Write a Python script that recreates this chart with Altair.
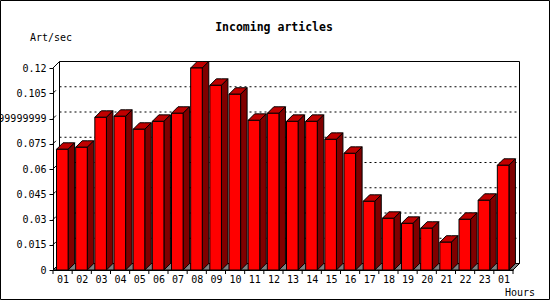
import json
import altair as alt
import pandas as pd

# ---------------- data ----------------
hours = ["01", "02", "03", "04", "05", "06", "07", "08", "09", "10", "11", "12",
         "13", "14", "15", "16", "17", "18", "19", "20", "21", "22", "23", "01"]
rates = [0.0717, 0.0729, 0.0907, 0.0913, 0.0836, 0.0883, 0.0931, 0.1200,
         0.1097, 0.1044, 0.0889, 0.0931, 0.0883, 0.0883, 0.0776, 0.0693,
         0.0408, 0.0307, 0.0277, 0.0248, 0.0165, 0.0301, 0.0414, 0.0622]
y_ticks = [0, 0.015, 0.03, 0.045, 0.06, 0.075, 0.09, 0.105, 0.12]
y_tick_labels = ["0", "0.015", "0.03", "0.045", "0.06", "0.075",
                 "0.0899999999", "0.105", "0.12"]
title_text = "Incoming articles"
y_title = "Art/sec"
x_title = "Hours"

# ---------------- geometry / style ----------------
W, H = 460, 202
PAD_L, PAD_T = 53, 68
N = len(hours)
Y_MAX = y_ticks[-1]
DEPTH = 6.5                       # px of 3D depth
dx = DEPTH * N / W                # depth in x data units
dy = DEPTH * Y_MAX / H            # depth in y data units
FRONT_OFF = 3.5 * N / W
FRONT_W = 11.6 * N / W
FONT = "DejaVu Sans Mono"

xs = alt.Scale(domain=[0, N], nice=False, zero=False)
ys = alt.Scale(domain=[0, Y_MAX], nice=False, zero=False)

x_label_expr = json.dumps(hours) + "[floor(datum.value)]"
y_label_expr = json.dumps(y_tick_labels) + "[round(datum.value / %r)]" % y_ticks[1]

XAX = alt.Axis(
    values=[i + 0.5 for i in range(N)], labelExpr=x_label_expr, ticks=False,
    domain=True, domainColor="black", domainWidth=1, grid=False, title=None,
    labelFont=FONT, labelFontSize=10, labelColor="black", labelPadding=4,
    labelAngle=0, labelOverlap=False, labelFlush=False, labelBound=False)
YAX = alt.Axis(
    values=y_ticks, labelExpr=y_label_expr, ticks=True, tickSize=4,
    tickColor="black", domain=True, domainColor="black", domainWidth=1,
    grid=False, title=None, labelFont=FONT, labelFontSize=10,
    labelColor="black", labelPadding=3, labelOverlap=False,
    labelFlush=False, labelBound=False)


def X(field):
    return alt.X(field, scale=xs, axis=XAX)


def Y(field):
    return alt.Y(field, scale=ys, axis=YAX)


# bar faces
front_rows, top_rows, side_rows = [], [], []
for i, v in enumerate(rates):
    x0 = i + FRONT_OFF
    x1 = x0 + FRONT_W
    front_rows.append({"bar": i, "hour": hours[i], "x0": x0, "x1": x1, "v": v})
    for k, (xx, yy, yy2) in enumerate([(x0, v, v), (x0 + dx, v + dy, v),
                                       (x1, v + dy, v), (x1 + dx, v + dy, v + dy)]):
        top_rows.append({"bar": i, "k": k, "x": xx, "y": yy, "y2": yy2})
    for k, (xx, yy, yy2) in enumerate([(x1, v, 0), (x1 + dx, v + dy, dy)]):
        side_rows.append({"bar": i, "k": k, "x": xx, "y": yy, "y2": yy2})
front_df = pd.DataFrame(front_rows)
top_df = pd.DataFrame(top_rows)
side_df = pd.DataFrame(side_rows)

floor_df = pd.DataFrame({"x": [0, dx, N, N + dx], "y": [0, dy, dy, dy], "y2": [0, 0, 0, dy]})
back_df = pd.DataFrame({"x": [dx], "x2": [N + dx], "y": [dy], "y2": [Y_MAX + dy]})
grid_df = pd.DataFrame({"x": dx, "x2": N + dx, "y": [t + dy for t in y_ticks[1:-1]]})
xtick_df = pd.DataFrame({"t": list(range(N + 1))})
ydiag_df = pd.DataFrame({"x": 0.0, "x2": dx * 0.45, "y": y_ticks,
                         "y2": [t + dy * 0.45 for t in y_ticks]})
corner_df = pd.DataFrame({"x": [0.0], "x2": [dx], "y": [Y_MAX], "y2": [Y_MAX + dy]})
one = pd.DataFrame({"a": [0]})

# ---------------- layers ----------------
border = alt.Chart(one).mark_rect(fillOpacity=0, stroke="black", strokeWidth=1).encode(
    x=alt.value(-PAD_L + 0.5), x2=alt.value(550 - PAD_L - 0.5),
    y=alt.value(-PAD_T + 0.5), y2=alt.value(300 - PAD_T - 0.5))

back = alt.Chart(back_df).mark_rect(fill="white", stroke="black", strokeWidth=1).encode(
    x=X("x:Q"), x2="x2", y=Y("y:Q"), y2="y2")

grid = alt.Chart(grid_df).mark_rule(color="black", strokeWidth=1, strokeDash=[2, 3]).encode(
    x=X("x:Q"), x2="x2", y=Y("y:Q"))

floor = alt.Chart(floor_df).mark_area(fill="#808080", stroke="black", strokeWidth=1).encode(
    x=X("x:Q"), y=Y("y:Q"), y2="y2")

corner = alt.Chart(corner_df).mark_rule(color="black", strokeWidth=1).encode(
    x=X("x:Q"), x2="x2", y=Y("y:Q"), y2="y2")

face_layers = []
for i in range(N):
    face_layers.append(
        alt.Chart(top_df).transform_filter(alt.datum.bar == i)
        .mark_area(fill="#c00000", stroke="black", strokeWidth=1, fillOpacity=1)
        .encode(x=X("x:Q"), y=Y("y:Q"), y2="y2"))
    face_layers.append(
        alt.Chart(side_df).transform_filter(alt.datum.bar == i)
        .mark_area(fill="#800000", stroke="black", strokeWidth=1, fillOpacity=1)
        .encode(x=X("x:Q"), y=Y("y:Q"), y2="y2"))

fronts = alt.Chart(front_df).mark_rect(fill="#ff0000", stroke="black", strokeWidth=1).encode(
    x=X("x0:Q"), x2="x1", y=Y("v:Q"), y2=alt.Y2(datum=0),
    tooltip=["hour:N", "v:Q"])

xticks = alt.Chart(xtick_df).mark_rule(color="black", strokeWidth=1).encode(
    x=X("t:Q"), y=alt.value(H), y2=alt.value(H + 4))

ydiag = alt.Chart(ydiag_df).mark_rule(color="black", strokeWidth=1).encode(
    x=X("x:Q"), x2="x2", y=Y("y:Q"), y2="y2")

title_mark = alt.Chart(one).mark_text(
    text=title_text, font=FONT, fontSize=11.5, fontWeight="bold", color="black",
    align="center", baseline="alphabetic").encode(x=alt.value(274 - PAD_L), y=alt.value(31 - PAD_T))
ytitle_mark = alt.Chart(one).mark_text(
    text=y_title, font=FONT, fontSize=10, color="black",
    align="left", baseline="alphabetic").encode(x=alt.value(30 - PAD_L), y=alt.value(41 - PAD_T))
xtitle_mark = alt.Chart(one).mark_text(
    text=x_title, font=FONT, fontSize=10, color="black",
    align="left", baseline="alphabetic").encode(x=alt.value(505 - PAD_L), y=alt.value(296 - PAD_T))

chart = alt.layer(
    border, back, grid, floor, corner, *face_layers, fronts, xticks, ydiag,
    title_mark, ytitle_mark, xtitle_mark
).properties(
    width=W, height=H,
    autosize=alt.AutoSizeParams(type="none"),
    padding={"left": PAD_L, "top": PAD_T, "right": 550 - PAD_L - W, "bottom": 300 - PAD_T - H},
    background="white",
).configure_view(stroke=None)

chart.save("out.html", embed_options={"renderer": "svg", "actions": False})
